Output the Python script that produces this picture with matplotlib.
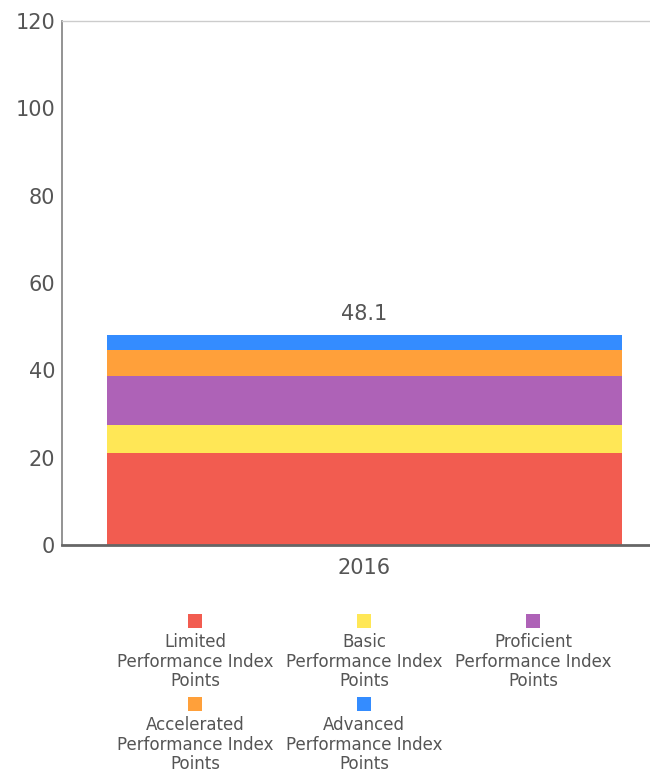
import matplotlib
matplotlib.use("Agg")
import matplotlib.pyplot as plt
from matplotlib.patches import Rectangle

categories = ["2016"]
series_names = [
    "Limited\nPerformance Index\nPoints",
    "Basic\nPerformance Index\nPoints",
    "Proficient\nPerformance Index\nPoints",
    "Accelerated\nPerformance Index\nPoints",
    "Advanced\nPerformance Index\nPoints",
]
series_values = [21.0, 6.4, 11.2, 6.0, 3.5]
series_colors = ["#F25C50", "#FFE756", "#AE62B7", "#FFA03A", "#348CFF"]
yticks = [0, 20, 40, 60, 80, 100, 120]
total_label = "48.1"

TEXT = "#555555"
W, H = 650, 773

fig = plt.figure(figsize=(W / 100, H / 100), dpi=100)
ax = fig.add_axes([62 / W, 1 - 545 / H, (650 - 62) / W, (545 - 21) / H])

bottom = 0.0
for val, col in zip(series_values, series_colors):
    ax.bar(0, val, width=1.0, bottom=bottom, color=col, linewidth=0)
    bottom += val
ax.text(0, bottom + 2.4, total_label, ha="center", va="bottom", fontsize=15, color=TEXT)

ax.set_xlim(-0.587, 0.554)
ax.set_ylim(0, 120)
ax.set_yticks(yticks)
ax.set_yticklabels([str(t) for t in yticks], fontsize=15, color=TEXT)
ax.set_xticks([0])
ax.set_xticklabels(categories, fontsize=15, color=TEXT)
ax.tick_params(axis="both", length=0)
ax.tick_params(axis="y", pad=5)
ax.tick_params(axis="x", pad=9)

ax.spines["right"].set_visible(False)
ax.spines["top"].set_color("#cccccc")
ax.spines["top"].set_linewidth(1.0)
ax.spines["left"].set_color("#808080")
ax.spines["left"].set_linewidth(1.2)
ax.spines["bottom"].set_color("#666666")
ax.spines["bottom"].set_linewidth(2.0)

# legend drawn by hand: 3 columns, centred under each column
col_x = [195, 364, 533]
row_y = [621, 704]
sq = 14
for i, (name, col) in enumerate(zip(series_names, series_colors)):
    cx = col_x[i % 3]
    cy = row_y[i // 3]
    fig.patches.append(Rectangle(((cx - sq / 2) / W, 1 - (cy + sq / 2) / H), sq / W, sq / H,
                                 transform=fig.transFigure, facecolor=col, edgecolor="none"))
    fig.text(cx / W, 1 - (cy + 12) / H, name, ha="center", va="top", fontsize=12.0,
             color=TEXT, linespacing=1.12)

fig.savefig("out.png", dpi=100)
